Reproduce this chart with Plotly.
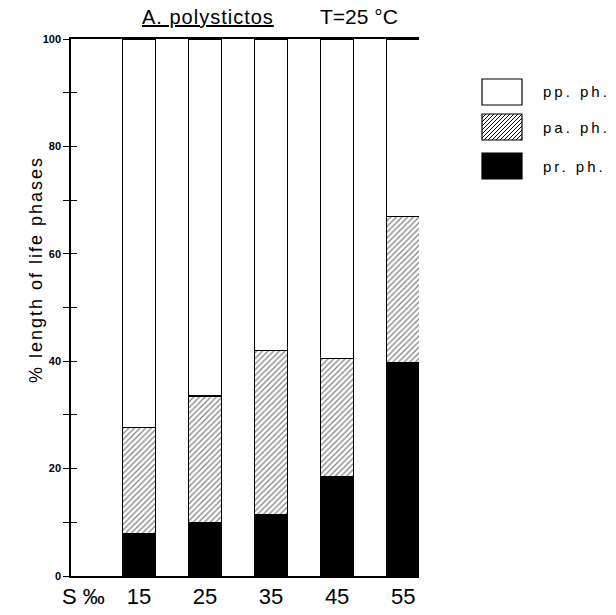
import plotly.graph_objects as go

salinity = [15, 25, 35, 45, 55]
pr_ph = [8.0, 10.0, 11.5, 18.6, 39.7]
pa_ph = [19.7, 23.5, 30.5, 21.9, 27.3]
pp_ph = [72.3, 66.5, 58.0, 59.5, 33.0]
tick_labels = ["15", "25", "35", "45", "55"]
y_ticks = [0, 20, 40, 60, 80, 100]
y_minor = [10, 30, 50, 70, 90]
legend_labels = ["pp. ph.", "pa. ph.", "pr. ph."]

FONT = "Liberation Sans, Arial, sans-serif"
W, H = 616, 615
ML, MR, MT, MB = 71, 197, 39, 39
PW, PH = W - ML - MR, H - MT - MB


def spaced(t, px):
    return f"<span style='letter-spacing:{px}px'>{t}</span>"


def px_x(px):
    return (px - ML) / PW


def px_y(py):
    return (H - MB - py) / PH


fig = go.Figure()
fig.add_trace(go.Bar(x=salinity, y=pr_ph, name=legend_labels[2], width=5,
                     marker=dict(color="black", line=dict(color="black", width=1)),
                     showlegend=False))
fig.add_trace(go.Bar(x=salinity, y=pa_ph, name=legend_labels[1], width=5,
                     marker=dict(color="white", line=dict(color="black", width=1),
                                 pattern=dict(shape="/", fgcolor="black", bgcolor="white",
                                              size=4, solidity=0.3)),
                     showlegend=False))
fig.add_trace(go.Bar(x=salinity, y=pp_ph, name=legend_labels[0], width=5,
                     marker=dict(color="white", line=dict(color="black", width=1.3)),
                     showlegend=False))
# invisible trace on overlay axis to get crossing ticks
fig.add_trace(go.Scatter(x=[salinity[0]], y=[0], yaxis="y2", mode="markers",
                         marker=dict(opacity=0), showlegend=False, hoverinfo="skip"))

# ---- custom legend (swatches + labels) ----
shapes = []
annotations = []
box_x0, box_x1 = 482, 522
centers = [92, 127, 166]
box_h = 26
styles = ["white", "hatch", "black"]
for lab, cy, st in zip(legend_labels, centers, styles):
    y0, y1 = cy - box_h / 2, cy + box_h / 2
    fill = "black" if st == "black" else "white"
    shapes.append(dict(type="rect", xref="paper", yref="paper",
                       x0=px_x(box_x0), x1=px_x(box_x1), y0=px_y(y1), y1=px_y(y0),
                       fillcolor=fill, line=dict(color="black", width=1.2)))
    if st == "hatch":
        step = 4
        segs = []
        # '/' lines: from lower-left to upper-right, 45 degrees in pixels
        c = box_x0 - box_h
        while c < box_x1:
            # line: x = c + t, y = y1 - t  (t from 0..)
            t0 = max(0, box_x0 - c)
            t1 = min(box_h, box_x1 - c)
            if t1 > t0:
                xa, ya = c + t0, y1 - t0
                xb, yb = c + t1, y1 - t1
                segs.append(f"M{px_x(xa):.5f},{px_y(ya):.5f} L{px_x(xb):.5f},{px_y(yb):.5f}")
            c += step
        shapes.append(dict(type="path", xref="paper", yref="paper", path=" ".join(segs),
                           line=dict(color="black", width=1)))
    annotations.append(dict(text=spaced(lab, 3), xref="paper", yref="paper",
                            x=px_x(541), y=px_y(cy), xanchor="left", yanchor="middle",
                            showarrow=False, font=dict(size=15, family=FONT)))

annotations += [
    dict(text="<span style='text-decoration:underline'>" + spaced("A. polystictos", 1) + "</span>",
         xref="paper", yref="paper", x=0.394, y=1.0, yshift=9,
         xanchor="center", yanchor="bottom", showarrow=False,
         font=dict(size=20, family=FONT)),
    dict(text="T=25 °C", xref="paper", yref="paper", x=0.828, y=1.0, yshift=9,
         xanchor="center", yanchor="bottom", showarrow=False,
         font=dict(size=21, family=FONT)),
    dict(text="S ‰", xref="paper", yref="paper", x=0.037, y=0, yshift=-6,
         xanchor="center", yanchor="top", showarrow=False,
         font=dict(size=22, family=FONT)),
    dict(text=spaced("% length of life phases", 2), xref="paper", yref="paper",
         x=-0.10, y=0.57, xanchor="center", yanchor="middle", textangle=-90,
         showarrow=False, font=dict(size=18, family=FONT)),
]

fig.update_layout(
    width=W, height=H,
    margin=dict(l=ML, r=MR, t=MT, b=MB, autoexpand=False),
    barmode="stack",
    plot_bgcolor="white", paper_bgcolor="white",
    font=dict(family=FONT, color="black"),
    showlegend=False,
    xaxis=dict(range=[4.7, 57.4], tickvals=salinity, ticktext=tick_labels,
               showline=True, linecolor="black", linewidth=1.5, mirror=True,
               ticks="", showgrid=False, zeroline=False,
               tickfont=dict(size=22, family=FONT)),
    yaxis=dict(range=[0, 100], tickvals=y_ticks, ticks="outside", ticklen=6,
               tickcolor="black", tickwidth=1.3,
               minor=dict(tickvals=y_minor, ticks="outside", ticklen=6,
                          tickcolor="black", tickwidth=1.3),
               showline=True, linecolor="black", linewidth=1.5,
               showgrid=False, zeroline=False,
               tickfont=dict(size=11, family=FONT, weight="bold")),
    yaxis2=dict(range=[0, 100], overlaying="y", side="left", tickvals=y_ticks,
                ticks="inside", ticklen=6, tickcolor="black", tickwidth=1.3,
                minor=dict(tickvals=y_minor, ticks="inside", ticklen=6,
                           tickcolor="black", tickwidth=1.3),
                showticklabels=False, showgrid=False, zeroline=False, showline=False),
    shapes=shapes,
    annotations=annotations,
)

fig.write_html("out.html", config={"displayModeBar": False},
               post_script="document.body.style.margin='0';")
